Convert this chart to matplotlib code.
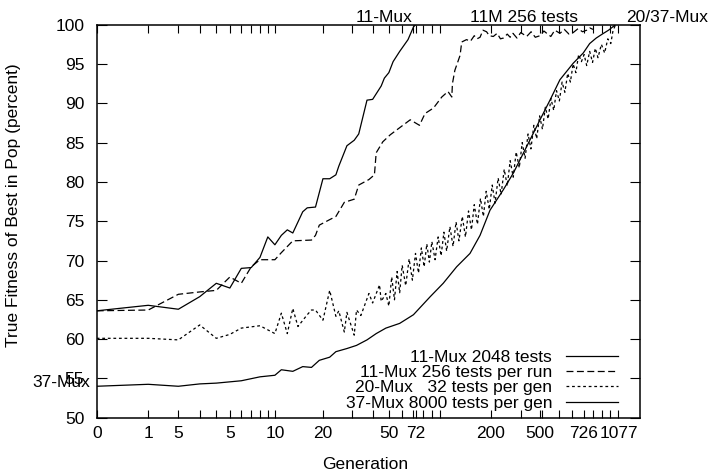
import numpy as np
import matplotlib
matplotlib.use("Agg")
import matplotlib.pyplot as plt
import matplotlib.transforms as mtransforms

plt.rcParams['font.family'] = ['Liberation Sans', 'DejaVu Sans']
plt.rcParams['font.size'] = 12.5
plt.rcParams['lines.scale_dashes'] = False

# === DATA (generation, true fitness %) ===
mux11_gen = [0, 1, 2, 3, 4, 5, 6, 7, 8, 9, 10, 11, 12, 13, 15, 16, 18, 20, 22, 24,
             25, 28, 31, 33, 37, 40, 45, 47, 50, 53, 58, 65, 70, 72]
mux11_fit = [63.6, 64.3, 63.8, 65.4, 67.1, 66.5, 69.0, 69.1, 70.4, 73.0, 72.0, 73.2,
             73.9, 73.5, 76.2, 76.7, 76.8, 80.4, 80.4, 80.9, 82.0, 84.6, 85.3, 86.1,
             90.4, 90.5, 92.2, 93.2, 93.9, 95.3, 96.6, 98.1, 99.7, 100.0]

mux11r_gen = [0, 1, 2, 3, 4, 5, 6, 7, 8, 9, 10, 11, 13, 17, 18, 19, 22, 24, 27, 31,
              33, 38, 41, 42, 46, 51, 67, 76, 82, 92, 103, 112, 118, 119, 123, 132,
              135, 144, 152, 160, 166, 173, 180, 189, 196, 207, 218, 228, 237, 250,
              260, 270, 285, 300, 325, 345, 365, 389, 410, 426, 450, 475, 509, 540,
              575, 609, 650, 690, 730, 760, 795]
mux11r_fit = [63.6, 63.7, 65.7, 66.0, 66.2, 67.9, 67.1, 69.2, 70.1, 70.1, 70.1, 71.0,
              72.5, 72.6, 73.2, 74.5, 75.2, 75.6, 77.4, 77.8, 79.6, 80.3, 80.9, 83.7,
              85.1, 86.0, 87.9, 87.2, 88.7, 89.4, 90.8, 91.5, 90.8, 92.5, 94.2, 96.1,
              97.8, 98.1, 97.9, 98.6, 98.2, 98.4, 99.3, 99.1, 98.6, 98.5, 98.9, 98.2,
              98.3, 98.8, 98.4, 98.9, 98.3, 99.0, 98.5, 99.1, 98.4, 98.6, 99.2, 98.9,
              98.5, 99.3, 98.9, 99.4, 98.8, 99.0, 99.5, 99.1, 99.3, 99.6, 99.4]

mux20_gen = [0, 1, 2, 3, 4, 5, 6, 8, 10, 11, 12, 13, 14, 16, 17, 18, 20, 22, 24, 25,
             27, 28, 31, 32, 34, 38, 40, 44, 45, 48, 50, 52, 54, 56, 58, 60, 63, 66,
             69, 72, 75, 78, 81, 84, 87, 90, 94, 98, 102, 106, 110, 115, 120, 125,
             130, 136, 142, 148, 154, 160, 167, 174, 181, 188, 196, 204, 212, 221,
             230, 240, 250, 260, 271, 282, 294, 306, 318, 331, 344, 358, 372, 387,
             402, 418, 434, 451, 468, 486, 505, 524, 544, 565, 586, 608, 631, 655,
             680, 705, 730, 760, 790, 820, 850, 890, 930, 970, 1010, 1040, 1077]
mux20_fit = [60.1, 60.1, 59.9, 61.8, 60.1, 60.6, 61.4, 61.7, 60.7, 63.3, 60.7, 63.9,
             61.6, 63.1, 63.7, 63.7, 62.4, 66.2, 62.9, 63.6, 60.9, 63.4, 60.5, 63.7,
             63.0, 65.8, 64.6, 66.9, 64.8, 65.8, 64.2, 67.9, 65.0, 68.6, 65.9, 69.4,
             66.8, 70.2, 67.5, 70.9, 68.4, 71.6, 69.2, 72.1, 69.8, 72.4, 70.1, 73.0,
             70.6, 73.6, 71.2, 74.3, 71.8, 74.9, 72.5, 75.6, 73.0, 76.3, 73.9, 77.1,
             74.6, 77.9, 75.6, 78.8, 76.5, 79.6, 77.3, 80.5, 78.4, 81.6, 79.5, 82.7,
             80.6, 83.8, 81.8, 85.0, 83.0, 86.1, 84.2, 87.2, 85.5, 88.4, 86.7, 89.5,
             88.0, 90.6, 89.1, 91.6, 90.3, 92.7, 91.4, 93.8, 92.7, 95.0, 93.9, 96.2,
             95.3, 96.2, 94.8, 96.6, 95.2, 97.0, 95.8, 97.5, 96.4, 98.2, 97.6, 99.2,
             100.0]

mux37_gen = [0, 1, 2, 3, 4, 6, 8, 10, 11, 13, 15, 17, 19, 22, 24, 28, 32, 37, 42, 48,
             58, 70, 88, 105, 126, 151, 173, 198, 237, 271, 325, 389, 445, 509, 609,
             697, 760, 830, 900, 980, 1077]
mux37_fit = [54.0, 54.25, 54.0, 54.3, 54.4, 54.7, 55.2, 55.4, 56.1, 55.9, 56.5, 56.4,
             57.3, 57.7, 58.4, 58.8, 59.2, 59.9, 60.7, 61.4, 62.0, 63.1, 65.4, 67.1,
             69.2, 70.9, 73.2, 76.4, 79.0, 81.1, 84.5, 87.9, 90.4, 93.0, 95.1, 96.4,
             97.6, 98.3, 98.8, 99.3, 100.0]

series_labels = ['11-Mux 2048 tests', '11-Mux 256 tests per run',
                 '20-Mux   32 tests per gen', '37-Mux 8000 tests per gen']

xtick_pos = [0, 1, 2, 5, 10, 20, 50, 72, 200, 390, 700, 1120]
xtick_lab = ['0', '1', '5', '5', '10', '20', '50', '72', '200', '500', '726', '1077']
xminor_pos = [1, 2, 3, 4, 5, 6, 7, 8, 9, 10, 20, 30, 40, 50, 60, 70, 80, 90, 100,
              200, 300, 400, 500, 600, 700, 800, 900, 1000]

top_labels = [('11-Mux', 47), ('11M 256 tests', 313), ('20/37-Mux', 2150)]


def fwd(x):
    return np.log10(np.asarray(x, dtype=float) + 1.0)


def inv(y):
    return 10.0 ** np.asarray(y, dtype=float) - 1.0


# === PLOT ===
fig = plt.figure(figsize=(7.17, 4.73), dpi=100)
ax = fig.add_axes([0.1349, 0.1169, 0.7577, 0.8309])
ax.set_xscale('function', functions=(fwd, inv))

lw = 0.9
ax.plot(mux11_gen, mux11_fit, color='black', lw=lw, label=series_labels[0])
ax.plot(mux11r_gen, mux11r_fit, color='black', lw=lw, dashes=(5, 2.5),
        label=series_labels[1])
ax.plot(mux20_gen, mux20_fit, color='black', lw=lw, dashes=(2, 2),
        label=series_labels[2])
ax.plot(mux37_gen, mux37_fit, color='black', lw=lw, label=series_labels[3])

ax.set_xlim(0, 1497)
ax.set_ylim(50, 100)

ax.set_xticks(xtick_pos)
ax.set_xticklabels(xtick_lab)
ax.set_xticks(xminor_pos, minor=True)
ax.set_yticks(np.arange(50, 101, 5))

ax.tick_params(axis='both', which='both', direction='in', top=True, right=True,
               width=0.8, colors='black')
ax.tick_params(axis='x', which='both', length=6, pad=6)
ax.tick_params(axis='y', which='major', length=7, pad=9)

for sp in ax.spines.values():
    sp.set_linewidth(1.1)

ax.set_xlabel('Generation')
ax.set_ylabel('True Fitness of Best in Pop (percent)')
ax.xaxis.set_label_coords(0.494, -0.1)
ax.yaxis.set_label_coords(-0.139, 0.541)

# labels above the frame
trans_top = mtransforms.blended_transform_factory(ax.transData, ax.transAxes)
for txt, g in top_labels:
    ax.annotate(txt, xy=(g, 1.0), xycoords=trans_top, xytext=(0, 2),
                textcoords='offset points', ha='center', va='baseline',
                annotation_clip=False)

trans_left = mtransforms.blended_transform_factory(ax.transAxes, ax.transData)
ax.annotate('37-Mux', xy=(0, 53.9), xycoords=trans_left, xytext=(-5, 0),
            textcoords='offset points', ha='right', va='baseline',
            annotation_clip=False)

ax.legend(loc='lower right', bbox_to_anchor=(0.9595, 0.018), frameon=False,
          markerfirst=False, handlelength=3.0, handletextpad=0.8,
          labelspacing=0.0, borderpad=0, borderaxespad=0)

fig.savefig('out.png', dpi=100)
